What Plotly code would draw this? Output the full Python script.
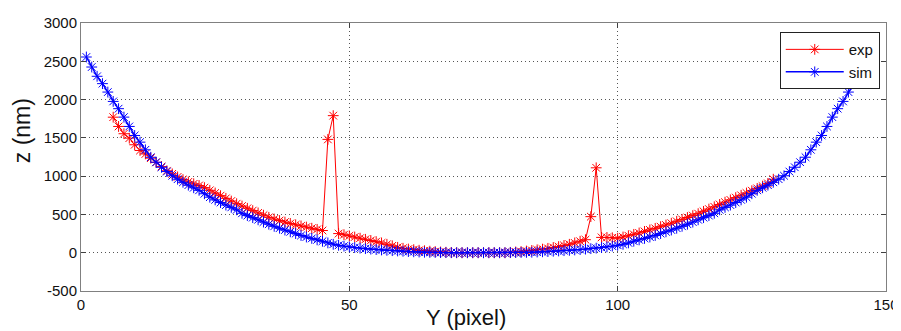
import plotly.graph_objects as go

# ---- data ----
sim_x = list(range(1, 148))
sim_z = [
    2556, 2425, 2304, 2208, 2098, 1976, 1881, 1771, 1649, 1531,
    1444, 1344, 1247, 1182, 1116, 1060, 1005, 960, 920, 882,
    848, 815, 770, 725, 690, 655, 622, 592, 560, 515,
    485, 458, 430, 400, 372, 345, 320, 296, 273, 250,
    225, 205, 187, 168, 150, 128, 110, 97, 86, 76,
    67, 60, 53, 47, 41, 36, 31, 27, 23, 19,
    15, 12, 9, 6, 4, 3, 2, 1, 0, 0,
    0, 0, 0, 0,
    0, 0, 0, 0, 0, 1, 2, 3, 4,
    6, 9, 12, 15, 19, 23, 27, 31, 36, 41,
    47, 53, 60, 67, 76, 86, 97, 110, 128, 150,
    168, 187, 205, 225, 250, 273, 296, 320, 345, 372,
    400, 430, 458, 485, 515, 560, 592, 622, 655, 690,
    725, 770, 815, 848, 882, 920, 960, 1005, 1060, 1116,
    1182, 1247, 1344, 1444, 1531, 1649, 1771, 1881, 1976, 2098,
    2208, 2304, 2425, 2556,
]

exp_x = list(range(6, 130))
exp_z = [
    1770, 1649, 1554, 1496, 1410, 1335, 1290, 1235, 1180, 1125,
    1070, 1030, 990, 955, 925, 900, 878, 850, 815, 780,
    745, 710, 675, 640, 610, 580, 550, 520, 490, 462,
    440, 420, 400, 382, 365, 350, 335, 320, 305, 290,
    1480, 1790, 250, 235, 220, 205, 190, 175, 160, 145,
    128, 110, 90, 70, 58, 48, 40, 32, 26, 20,
    15, 10, 6, 3, 0, 0, 0, 0, 0, 0,
    0, 0, 0, 0, 5, 10, 15, 22, 30, 38,
    47, 57, 68, 80, 95, 110, 128, 150, 170, 471,
    1109, 200, 200, 195, 190, 205, 222, 240, 258, 278,
    298, 318, 340, 362, 385, 410, 435, 460, 485, 510,
    540, 570, 600, 630, 660, 690, 720, 750, 780, 810,
    840, 870, 905, 960,
]

y_ticks = [-500, 0, 500, 1000, 1500, 2000, 2500, 3000]
y_ticktext = ["-500", "0", "500", "1000", "1500", "2000", "2500", "3000"]
x_ticks = [0, 50, 100, 150]
x_title = "Y (pixel)"
y_title = "z (nm)"

fig = go.Figure()
fig.add_trace(go.Scatter(
    x=exp_x, y=exp_z, name="exp", mode="lines+markers",
    line=dict(color="#ff0000", width=1),
    marker=dict(symbol="asterisk-open", size=9, color="#ff0000",
                line=dict(color="#ff0000", width=1)),
))
fig.add_trace(go.Scatter(
    x=sim_x, y=sim_z, name="sim", mode="lines+markers",
    line=dict(color="#0000ff", width=1.5),
    marker=dict(symbol="asterisk-open", size=9, color="#0000ff",
                line=dict(color="#0000ff", width=1)),
))

axis_common = dict(
    showline=True, linecolor="#808080", linewidth=1, mirror="allticks",
    ticks="inside", ticklen=5, tickcolor="#404040",
    showgrid=True, gridcolor="#555555", griddash="1px,3px", gridwidth=1,
    zeroline=False, automargin=False,
    tickfont=dict(family="Liberation Sans, Arial, sans-serif", size=15, color="#111111"),
)

fig.update_layout(
    width=893, height=323,
    margin=dict(l=73, r=15, t=15, b=40),
    paper_bgcolor="white", plot_bgcolor="white",
    font=dict(family="Liberation Sans, Arial, sans-serif", color="#111111"),
    xaxis=dict(range=[0, 150], tickmode="array", tickvals=x_ticks, **axis_common),
    yaxis=dict(range=[-500, 3000], tickmode="array", tickvals=y_ticks,
               ticktext=y_ticktext, **axis_common),
    legend=dict(x=0.868, y=0.966, xanchor="left", yanchor="top",
                bgcolor="white", bordercolor="#222222", borderwidth=1,
                font=dict(size=15), tracegroupgap=0, itemwidth=58),
    showlegend=True,
    annotations=[
        dict(text=x_title, xref="paper", yref="paper", x=0.478, y=-0.10,
             xanchor="center", yanchor="middle", showarrow=False,
             font=dict(size=22, color="#111111")),
        dict(text=y_title, xref="paper", yref="paper", x=-0.073, y=0.597,
             xanchor="center", yanchor="middle", showarrow=False, textangle=-90,
             font=dict(size=23, color="#111111")),
    ],
)

fig.write_html("out.html")
